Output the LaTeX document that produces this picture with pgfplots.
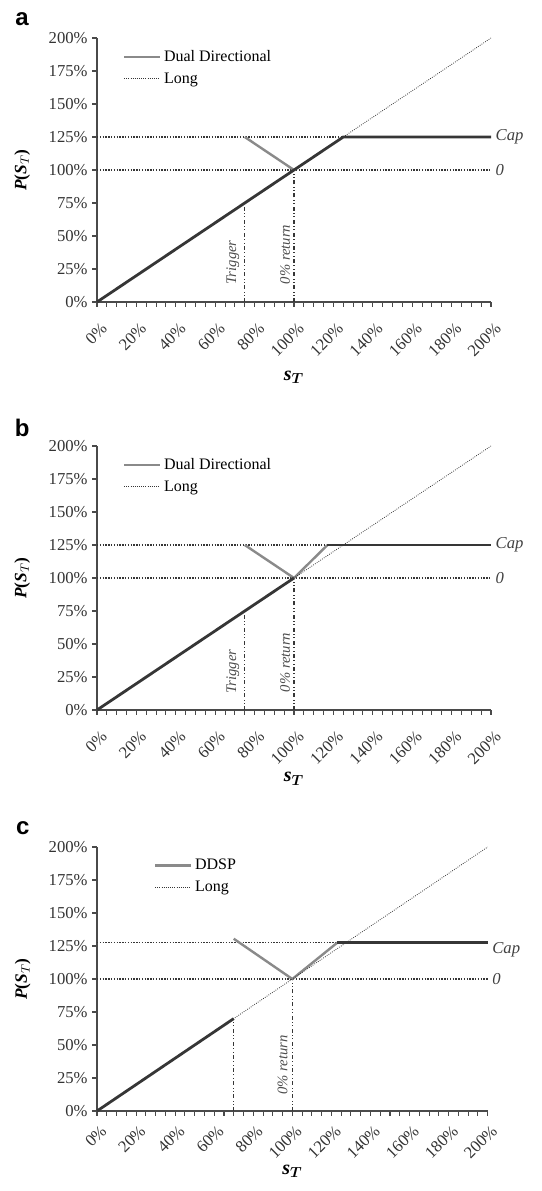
\documentclass[border=0pt]{standalone}
\usepackage{fontspec}
\setmainfont{Liberation Serif}
\setsansfont{Liberation Sans}
\usepackage{pgfplots}
\pgfplotsset{compat=1.18}
\usepackage{amsmath,bm}

\definecolor{darkline}{HTML}{363636}
\definecolor{midline}{HTML}{8A8A8A}
\definecolor{axisgray}{HTML}{4A4A4A}

\tikzset{
  hdot/.style={densely dotted, line width=1.1pt, darkline},
  vdash/.style={dash dot dot, line width=0.9pt, darkline},
  thinlong/.style={densely dotted, line width=0.6pt, darkline},
  payoff/.style={line width=2.1pt, darkline},
  grayseg/.style={line width=1.8pt, midline},
  capnote/.style={anchor=west, font=\fontsize{12.5}{14}\selectfont\itshape, text=black!75},
  vnote/.style={rotate=90, font=\fontsize{11}{13}\selectfont\itshape, text=black!70},
  letter/.style={font=\sffamily\bfseries\fontsize{18}{20}\selectfont},
}

\pgfplotsset{
  panel/.style={
    scale only axis, width=295.5pt, height=198pt, anchor=south west,
    xmin=0, xmax=200, ymin=0, ymax=200,
    axis x line*=bottom, axis y line*=left,
    axis line style={axisgray, line width=1pt},
    xtick={0,20,...,200}, minor x tick num=3,
    ytick={0,25,...,200},
    tick align=outside, major tick length=3.5pt, minor tick length=3.5pt,
    every tick/.style={axisgray, line width=0.8pt},
    /pgf/number format/assume math mode=true,
    xticklabel={\pgfmathprintnumber{\tick}\%},
    yticklabel={\pgfmathprintnumber{\tick}\%},
    tick label style={font=\fontsize{12.5}{14}\selectfont, text=black!80},
    xticklabel style={rotate=45, anchor=north east, inner sep=1pt, xshift=-5.3pt, yshift=-8.5pt},
    xlabel={\textbf{\textit{s}}$_{\boldsymbol{T}}$},
    xlabel style={at={(axis description cs:0.5,-0.285)}, anchor=center, font=\fontsize{15}{17}\selectfont},
    ylabel={\textbf{\textit{P}(\textit{S}$_{T}$)}},
    ylabel style={at={(axis description cs:-0.19,0.5)}, anchor=center, rotate=0, font=\fontsize{13}{15}\selectfont},
    clip=false,
    legend cell align=left,
    legend style={draw=none, fill=none, anchor=north west, row sep=3pt,
      font=\fontsize{12}{14}\selectfont},
    legend image code/.code={\draw[##1] (0cm,0cm) -- (0.95cm,0cm);},
  },
}

\begin{document}
\begin{tikzpicture}
% panel a
\begin{axis}[panel, at={(0pt,0pt)}, legend style={at={(0.055,0.975)}}]
\addplot[hdot, forget plot] coordinates {(0,125) (200,125)};
\addplot[hdot, forget plot] coordinates {(0,100) (200,100)};
\addplot[vdash, forget plot] coordinates {(75,0) (75,75)};
\addplot[vdash, forget plot] coordinates {(100,0) (100,100)};
\addplot[grayseg, forget plot] coordinates {(75,125) (100,100)};
\addplot[payoff, forget plot] coordinates {(0,0) (125,125) (200,125)};
\addlegendimage{grayseg}
\addlegendentry{Dual Directional}
\addplot[thinlong] coordinates {(0,0) (200,200)};
\addlegendentry{Long}
\node[capnote] at (axis cs:200,125) {Cap};
\node[capnote] at (axis cs:200,100) {0};
\node[vnote] at (axis cs:69,30) {Trigger};
\node[vnote] at (axis cs:95.5,36) {0\% return};
\node[letter] at (axis description cs:-0.19,1.07) {a};
\end{axis}
% panel b
\begin{axis}[panel, at={(0pt,-306pt)}, legend style={at={(0.055,0.975)}},
  xlabel style={at={(axis description cs:0.5,-0.26)}}]
\addplot[hdot, forget plot] coordinates {(0,125) (200,125)};
\addplot[hdot, forget plot] coordinates {(0,100) (200,100)};
\addplot[vdash, forget plot] coordinates {(75,0) (75,75)};
\addplot[vdash, forget plot] coordinates {(100,0) (100,100)};
\addplot[grayseg, forget plot] coordinates {(75,125) (100,100) (117,125)};
\addplot[payoff, forget plot] coordinates {(0,0) (100,100)};
\addplot[payoff, forget plot] coordinates {(117,125) (200,125)};
\addlegendimage{grayseg}
\addlegendentry{Dual Directional}
\addplot[thinlong] coordinates {(0,0) (200,200)};
\addlegendentry{Long}
\node[capnote] at (axis cs:200,125) {Cap};
\node[capnote] at (axis cs:200,100) {0};
\node[vnote] at (axis cs:69,29) {Trigger};
\node[vnote] at (axis cs:95.5,36) {0\% return};
\node[letter] at (axis description cs:-0.19,1.07) {b};
\end{axis}
% panel c
\begin{axis}[panel, at={(0pt,-606.75pt)}, width=293pt, legend style={at={(0.135,0.975)}},
  xticklabel style={xshift=3.3pt, yshift=3.7pt},
  xlabel style={at={(axis description cs:0.5,-0.228)}}]
\addplot[hdot, forget plot] coordinates {(0,127.5) (200,127.5)};
\addplot[hdot, forget plot] coordinates {(0,100) (200,100)};
\addplot[vdash, forget plot] coordinates {(70,0) (70,70)};
\addplot[vdash, forget plot] coordinates {(100,0) (100,100)};
\addplot[grayseg, forget plot] coordinates {(70,130.5) (100,100) (123,127.5)};
\addplot[payoff, forget plot] coordinates {(0,0) (70,70)};
\addplot[payoff, forget plot] coordinates {(123,127.5) (200,127.5)};
\addlegendimage{grayseg}
\addlegendentry{DDSP}
\addplot[thinlong] coordinates {(0,0) (200,200)};
\addlegendentry{Long}
\node[capnote, yshift=-5pt] at (axis cs:200,127.5) {Cap};
\node[capnote] at (axis cs:200,100) {0};
\node[vnote] at (axis cs:95,35) {0\% return};
\node[letter] at (axis description cs:-0.19,1.07) {c};
\end{axis}
\pgfresetboundingbox
\path (-72.75pt,226.5pt) rectangle (333.75pt,-666.75pt);
\end{tikzpicture}
\end{document}
